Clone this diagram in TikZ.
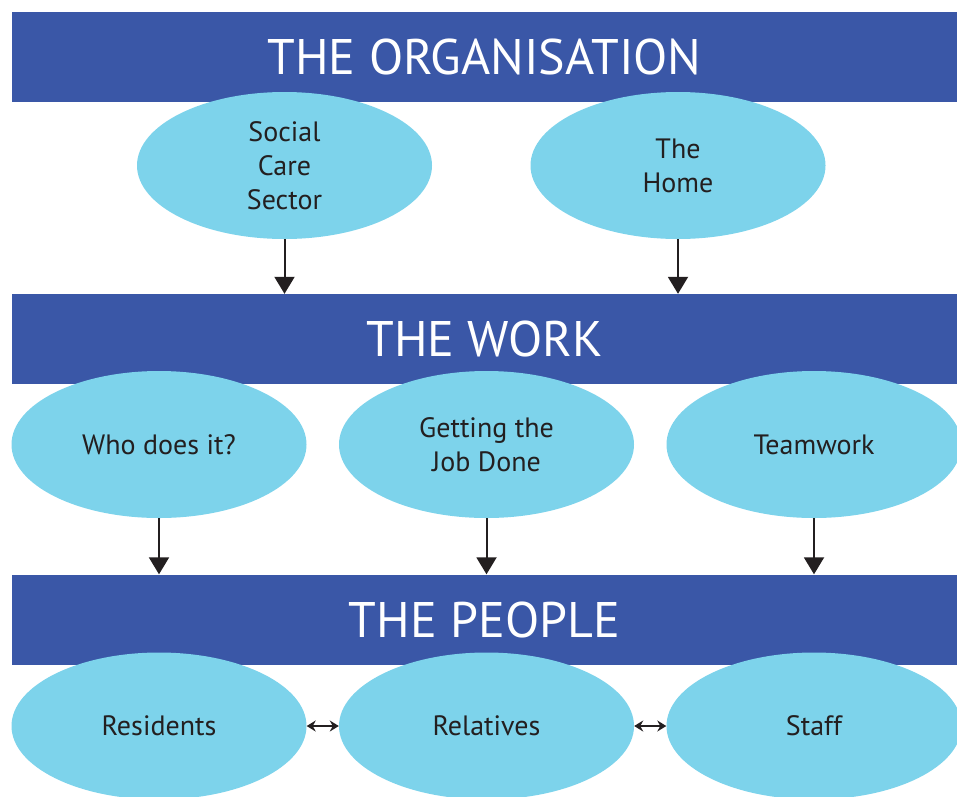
\documentclass[tikz,border=0pt]{standalone}
\usepackage{fontspec}
\setmainfont{PT Sans}
\usetikzlibrary{shapes.geometric,arrows.meta}

\definecolor{barblue}{HTML}{3A57A7}
\definecolor{cloudblue}{HTML}{7DD3EB}
\definecolor{ink}{HTML}{231F20}

\tikzset{
	bar/.style={fill=barblue, text=white, minimum width=945pt, minimum height=90pt,
		inner sep=0pt, font=\fontsize{50}{60}\selectfont},
	cloud/.style={ellipse, fill=cloudblue, text=ink, minimum width=295pt,
		minimum height=147pt, inner sep=0pt, align=center,
		font=\fontsize{28}{34}\selectfont},
	down/.style={draw=ink, line width=2pt, -{Triangle[width=20pt,length=17pt]}},
	both/.style={draw=ink, line width=2.2pt,
		{Stealth[width=11pt,length=9pt]}-{Stealth[width=11pt,length=9pt]}}
}

\begin{document}
\begin{tikzpicture}[x=1pt,y=-1pt]
			\clip (0,0) rectangle (957,796);
			% banners
			\node[bar] (orgbar) at (484.5,56.7) {THE ORGANISATION};
			\node[bar] (workbar) at (484.5,339) {THE WORK};
			\node[bar] (peoplebar) at (484.5,619.5) {THE PEOPLE};
			% organisation
			\node[cloud] (sector) at (284.5,165.5) {Social\\Care\\Sector};
			\node[cloud] (home) at (678,165.5) {The\\Home};
			% work
			\node[cloud] (who) at (159,444.5) {Who does it?};
			\node[cloud] (job) at (486.5,444.5) {Getting the\\Job Done};
			\node[cloud] (team) at (814,444.5) {Teamwork};
			% people
			\node[cloud] (residents) at (159,726) {Residents};
			\node[cloud] (relatives) at (486.5,726) {Relatives};
			\node[cloud] (staff) at (814,726) {Staff};
			% links
			\draw[down] (sector.south) -- (sector.south |- workbar.north);
			\draw[down] (home.south) -- (home.south |- workbar.north);
			\draw[down] (who.south) -- (who.south |- peoplebar.north);
			\draw[down] (job.south) -- (job.south |- peoplebar.north);
			\draw[down] (team.south) -- (team.south |- peoplebar.north);
			\draw[both] (residents.east) -- (relatives.west);
			\draw[both] (relatives.east) -- (staff.west);
		\end{tikzpicture}
\end{document}
